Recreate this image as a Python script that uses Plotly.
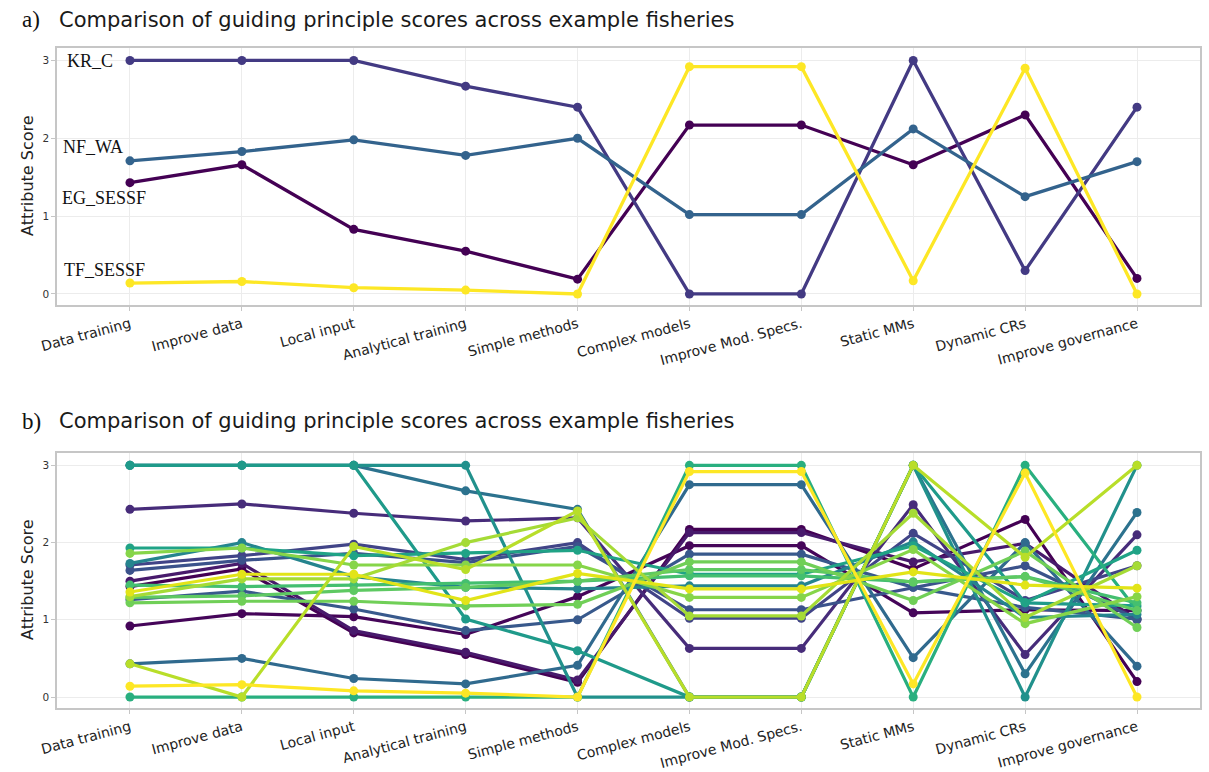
import plotly.graph_objects as go

# ---------------- data ----------------
categories = ["Data training", "Improve data", "Local input", "Analytical training",
              "Simple methods", "Complex models", "Improve Mod. Specs.", "Static MMs",
              "Dynamic CRs", "Improve governance"]
y_ticks = [0, 1, 2, 3]

# panel a: four example fisheries
a_names = ["EG_SESSF", "KR_C", "NF_WA", "TF_SESSF"]
eg_sessf = [1.43, 1.66, 0.83, 0.55, 0.19, 2.17, 2.17, 1.66, 2.30, 0.20]
kr_c     = [3.00, 3.00, 3.00, 2.67, 2.40, 0.00, 0.00, 3.00, 0.30, 2.40]
nf_wa    = [1.71, 1.83, 1.98, 1.78, 2.00, 1.02, 1.02, 2.12, 1.25, 1.70]
tf_sessf = [0.14, 0.16, 0.08, 0.05, 0.00, 2.92, 2.92, 0.17, 2.90, 0.00]

# panel b: all fisheries
b_f01 = [1.43, 1.66, 0.83, 0.55, 0.19, 2.17, 2.17, 1.66, 2.30, 0.20]
b_f02 = [0.92, 1.08, 1.04, 0.81, 1.30, 1.96, 1.96, 1.09, 1.13, 1.12]
b_f03 = [1.50, 1.73, 0.86, 0.58, 0.22, 2.13, 2.13, 1.75, 1.99, 1.00]
b_f04 = [2.43, 2.50, 2.38, 2.28, 2.32, 0.63, 0.63, 2.49, 0.55, 2.10]
b_f05 = [1.71, 1.83, 1.98, 1.78, 2.00, 1.02, 1.02, 2.12, 1.25, 1.70]
b_f06 = [1.64, 1.77, 1.86, 1.74, 1.95, 1.13, 1.13, 1.42, 1.70, 1.01]
b_f07 = [1.26, 1.37, 1.14, 0.86, 1.00, 1.85, 1.85, 1.42, 1.16, 1.01]
b_f08 = [0.43, 0.50, 0.24, 0.17, 0.41, 2.75, 2.75, 0.51, 2.00, 0.40]
b_f09 = [3.00, 3.00, 3.00, 2.67, 2.43, 0.00, 0.00, 3.00, 0.30, 2.39]
b_f10 = [1.73, 2.00, 1.56, 1.42, 1.40, 1.44, 1.44, 2.01, 1.03, 1.07]
b_f11 = [3.00, 3.00, 3.00, 3.00, 0.00, 0.00, 0.00, 3.00, 0.00, 3.00]
b_f12 = [3.00, 3.00, 3.00, 1.01, 0.60, 0.00, 0.00, 3.00, 1.22, 1.18]
b_f13 = [1.93, 1.93, 1.83, 1.86, 1.90, 1.59, 1.59, 1.96, 1.22, 1.90]
b_f14 = [0.00, 0.00, 0.00, 0.00, 0.00, 3.00, 3.00, 0.00, 3.00, 1.12]
b_f15 = [1.45, 1.43, 1.45, 1.47, 1.50, 1.57, 1.57, 1.49, 1.56, 1.22]
b_f16 = [1.29, 1.31, 1.38, 1.42, 1.50, 1.65, 1.65, 1.49, 1.56, 1.12]
b_f17 = [1.22, 1.24, 1.24, 1.18, 1.20, 1.75, 1.75, 1.25, 1.89, 0.90]
b_f18 = [1.86, 1.93, 1.71, 1.71, 1.71, 1.29, 1.29, 1.91, 0.95, 1.30]
b_f19 = [1.30, 1.53, 1.53, 2.00, 2.32, 1.05, 1.05, 2.38, 1.03, 1.70]
b_f20 = [0.43, 0.00, 1.95, 1.65, 2.41, 0.00, 0.00, 3.00, 1.81, 3.00]
b_f21 = [1.36, 1.59, 1.59, 1.25, 1.60, 1.40, 1.40, 1.62, 1.45, 1.41]
b_f22 = [0.14, 0.16, 0.08, 0.05, 0.00, 2.92, 2.92, 0.17, 2.90, 0.00]

# ---------------- styles ----------------
a_series = [eg_sessf, kr_c, nf_wa, tf_sessf]
a_colors = ["#440154", "#433a83", "#33638d", "#fde725"]

b_series = [b_f01, b_f02, b_f03, b_f04, b_f05, b_f06, b_f07, b_f08, b_f09, b_f10, b_f11,
            b_f12, b_f13, b_f14, b_f15, b_f16, b_f17, b_f18, b_f19, b_f20, b_f21, b_f22]
b_colors = ["#440154", "#450559", "#481a6c", "#472c7a", "#414487", "#3b528b", "#38598c",
            "#306a8e", "#2c728e", "#25848e", "#21918c", "#1f9a8a", "#20a386", "#29af7f",
            "#44bf70", "#5ec962", "#70cf57", "#86d549", "#a5db36", "#b8de29", "#e2e418",
            "#fde725"]

W, H = 1209, 772
fig = go.Figure()

for vals, col, nm in zip(a_series, a_colors, a_names):
    fig.add_trace(go.Scatter(x=categories, y=vals, mode="lines+markers", name=nm,
                             line=dict(color=col, width=3.3),
                             marker=dict(color=col, size=9),
                             xaxis="x", yaxis="y", showlegend=False))

for i, (vals, col) in enumerate(zip(b_series, b_colors)):
    fig.add_trace(go.Scatter(x=categories, y=vals, mode="lines+markers",
                             name="fishery %d" % (i + 1),
                             line=dict(color=col, width=3.2),
                             marker=dict(color=col, size=9),
                             xaxis="x2", yaxis="y2", showlegend=False))

def px_x(p):
    return p / W

def px_y(p):
    return 1 - p / H

xdom = [px_x(57), px_x(1200)]
axis_common = dict(showline=True, mirror=True, linecolor="#c6c6c6", linewidth=1.5,
                   showgrid=True, gridcolor="#ececec", gridwidth=1, automargin=False,
                   ticks="outside", ticklen=4, tickcolor="#c6c6c6", zeroline=False)
xfont = dict(family="DejaVu Sans", size=14, color="#222222")
yfont = dict(family="DejaVu Sans", size=10.5, color="#333333")
xr = [-0.652, 9.563]
yr = [-0.142, 3.16]

fig.update_layout(
    width=W, height=H,
    margin=dict(l=0, r=0, t=0, b=0, autoexpand=False),
    paper_bgcolor="white", plot_bgcolor="white",
    xaxis=dict(domain=xdom, anchor="y", type="category", range=xr, tickangle=-15,
               tickfont=xfont, categoryorder="array", categoryarray=categories, **axis_common),
    yaxis=dict(domain=[px_y(305), px_y(48)], anchor="x", range=yr, tickvals=y_ticks,
               tickfont=yfont, **axis_common),
    xaxis2=dict(domain=xdom, anchor="y2", type="category", range=xr, tickangle=-15,
                tickfont=xfont, categoryorder="array", categoryarray=categories, **axis_common),
    yaxis2=dict(domain=[px_y(708), px_y(453)], anchor="x2", range=yr, tickvals=y_ticks,
                tickfont=yfont, **axis_common),
)

title_text = "Comparison of guiding principle scores across example fisheries"
anns = []
for lab, ytop in [("a)", 20), ("b)", 421)]:
    anns.append(dict(text=lab, x=px_x(20), y=px_y(ytop), xref="paper", yref="paper",
                     xanchor="left", yanchor="middle", showarrow=False,
                     font=dict(family="Liberation Serif", size=23, color="#111111")))
    anns.append(dict(text=title_text, x=px_x(57), y=px_y(ytop), xref="paper", yref="paper",
                     xanchor="left", yanchor="middle", showarrow=False,
                     font=dict(family="DejaVu Sans", size=21, color="#1a1a1a")))
for yc in [176, 580]:
    anns.append(dict(text="Attribute Score", x=px_x(27), y=px_y(yc), xref="paper", yref="paper",
                     xanchor="center", yanchor="middle", textangle=-90, showarrow=False,
                     font=dict(family="DejaVu Sans", size=16, color="#222222")))

# series name labels in panel a
for nm, xl, yl in [("KR_C", 65, 61), ("NF_WA", 61, 147), ("EG_SESSF", 60, 198), ("TF_SESSF", 62, 270)]:
    anns.append(dict(text=nm, x=px_x(xl), y=px_y(yl), xref="paper", yref="paper",
                     xanchor="left", yanchor="middle", showarrow=False,
                     font=dict(family="Liberation Serif", size=18, color="#111111")))

fig.update_layout(annotations=anns)

fig.write_html("out.html", config={"displayModeBar": False},
               post_script="document.body.style.margin='0';")
